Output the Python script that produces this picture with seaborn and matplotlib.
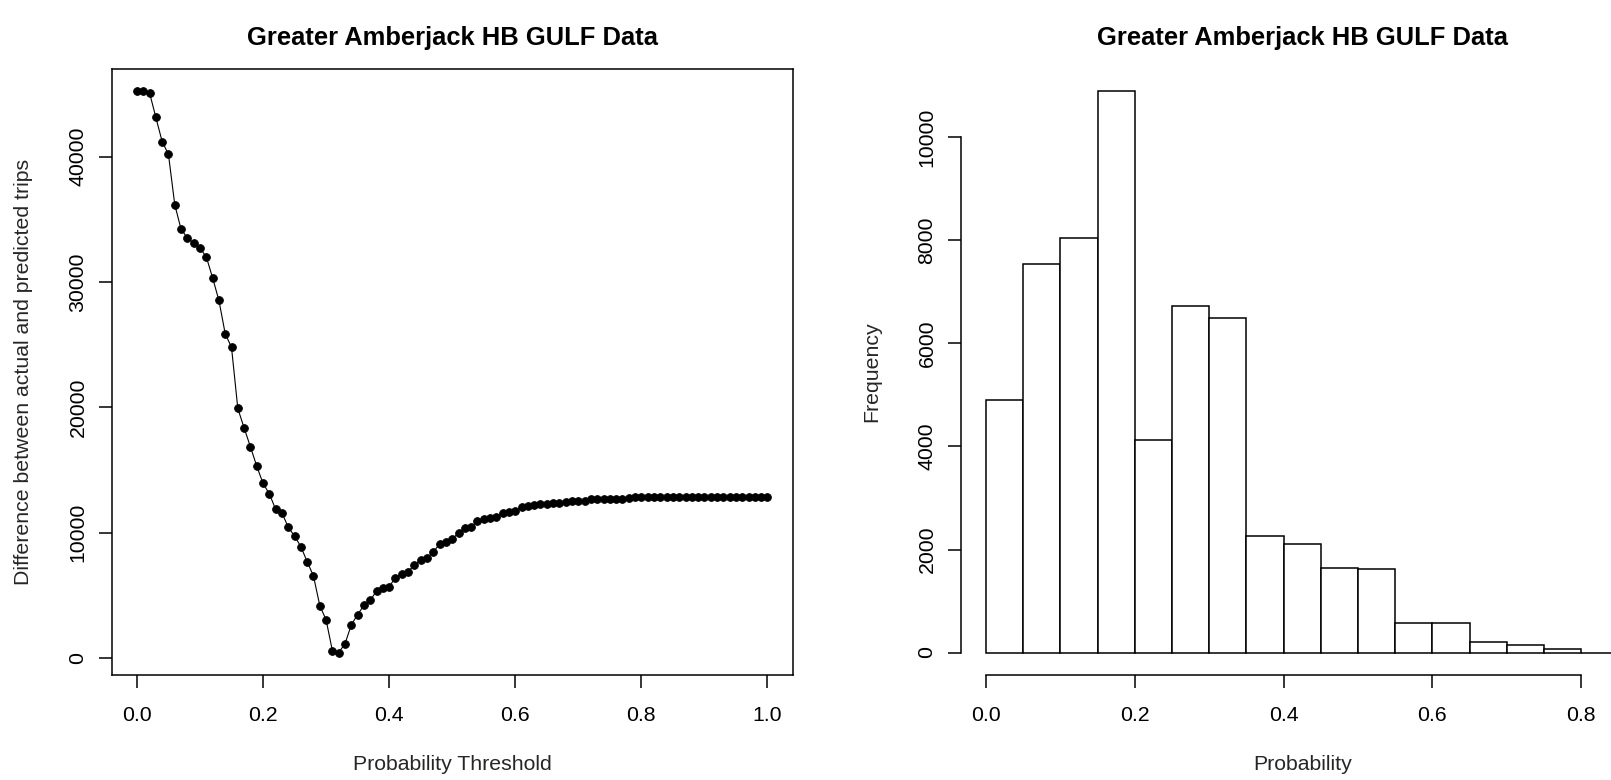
import numpy as np
import pandas as pd
import matplotlib
matplotlib.use("Agg")
import matplotlib.pyplot as plt
import seaborn as sns

# =========================
# Datos
# =========================

TITLE = "Greater Amberjack HB GULF Data"

# Umbral de probabilidad 0.00 ... 1.00 (paso 0.01)
thresholds = np.round(np.linspace(0, 1, 101), 2)

# Diferencia entre viajes reales y predichos
diff_trips = [
    45200, 45200, 45100, 43130, 41200, 40180, 36170, 34200, 33520, 33090,
    32700, 32000, 30330, 28530, 25870, 24780, 19900, 18350, 16840, 15300,
    13920, 13090, 11850, 11580, 10410, 9720, 8870, 7670, 6530, 4170,
    3030, 560, 420, 1120, 2630, 3450, 4180, 4600, 5320, 5550,
    5680, 6400, 6690, 6880, 7410, 7810, 7940, 8470, 9060, 9270,
    9460, 9990, 10330, 10460, 10920, 11100, 11180, 11260, 11580, 11610,
    11710, 12060, 12140, 12190, 12250, 12270, 12380, 12330, 12430, 12510,
    12530, 12530, 12640, 12670, 12680, 12690, 12690, 12700, 12720, 12800,
    12800, 12800, 12800, 12800, 12800, 12800, 12800, 12800, 12800, 12800,
    12800, 12800, 12800, 12800, 12800, 12800, 12800, 12800, 12800, 12800,
    12800,
]

# Histograma: bordes de clase y frecuencias
bin_edges = [0.0, 0.05, 0.10, 0.15, 0.20, 0.25, 0.30, 0.35, 0.40,
             0.45, 0.50, 0.55, 0.60, 0.65, 0.70, 0.75, 0.80, 0.85]
bin_counts = [4900, 7540, 8050, 10890, 4130, 6720, 6490, 2260, 2100,
              1650, 1620, 570, 570, 200, 140, 60, 0]

left_xticks = [0.0, 0.2, 0.4, 0.6, 0.8, 1.0]
left_yticks = [0, 10000, 20000, 30000, 40000]
right_xticks = [0.0, 0.2, 0.4, 0.6, 0.8]
right_yticks = [0, 2000, 4000, 6000, 8000, 10000]


# =========================
# Estilo (tipo R base)
# =========================

sns.set_style("ticks")
plt.rcParams["font.family"] = ["Liberation Sans", "DejaVu Sans"]
plt.rcParams["axes.linewidth"] = 1.1
plt.rcParams["text.color"] = "black"

W, H = 1611, 780
AX_FS = 15.3
TITLE_FS = 18.4
TICK_LEN = 9.4


def r_ticks(ax, xpad=13, ypad=8):
    ax.tick_params(axis="both", direction="out", length=TICK_LEN, width=1.1,
                   labelsize=AX_FS, colors="black")
    ax.tick_params(axis="x", pad=xpad)
    ax.tick_params(axis="y", pad=ypad, labelrotation=90)
    for lab in ax.get_yticklabels():
        lab.set_va("center")


def r_labels(ax, xlabel, ylabel, ycoord):
    ax.set_xlabel(xlabel, fontsize=AX_FS, va="center")
    ax.set_ylabel(ylabel, fontsize=AX_FS, va="center")
    ax.xaxis.set_label_coords(0.5, -0.1485)
    ax.yaxis.set_label_coords(ycoord, 0.5)
    ax.set_title(TITLE, fontsize=TITLE_FS, fontweight="bold", pad=17)


fig = plt.figure(figsize=(W / 100, H / 100), dpi=100)
ax1 = fig.add_axes([111.7 / W, (H - 675) / H, 681 / W, 606 / H])
ax2 = fig.add_axes([960.7 / W, (H - 675) / H, 683 / W, 606 / H])

# --- Panel izquierdo: curva de diferencias ---
df_line = pd.DataFrame({"threshold": thresholds, "diff": diff_trips})
sns.lineplot(data=df_line, x="threshold", y="diff", ax=ax1, color="black",
             linewidth=0.8, marker="o", markersize=5.6,
             markeredgecolor="black", markeredgewidth=0.6)
ymin, ymax = min(diff_trips), max(diff_trips)
ext = 0.04 * (ymax - ymin)
ax1.set_xlim(-0.04, 1.04)
ax1.set_ylim(ymin - ext, ymax + ext)
ax1.set_xticks(left_xticks)
ax1.set_xticklabels([f"{v:.1f}" for v in left_xticks])
ax1.set_yticks(left_yticks)
ax1.set_yticklabels([str(v) for v in left_yticks])
for s in ax1.spines.values():
    s.set_visible(True)
    s.set_color("black")
r_ticks(ax1)
r_labels(ax1, "Probability Threshold",
         "Difference between actual and predicted trips", -0.1302)

# --- Panel derecho: histograma ---
centers = [(a + b) / 2 for a, b in zip(bin_edges[:-1], bin_edges[1:])]
sns.histplot(x=centers, weights=bin_counts, bins=bin_edges, ax=ax2,
             color="white", edgecolor="black", linewidth=1.1, alpha=1)
hmax = max(bin_counts)
rng = bin_edges[-1] - bin_edges[0]
ax2.set_xlim(bin_edges[0] - 0.04 * rng, bin_edges[-1] + 0.04 * rng)
ax2.set_ylim(-0.04 * hmax, 1.04 * hmax)
ax2.set_xticks(right_xticks)
ax2.set_xticklabels([f"{v:.1f}" for v in right_xticks])
ax2.set_yticks(right_yticks)
ax2.set_yticklabels([str(v) for v in right_yticks])
ax2.spines["top"].set_visible(False)
ax2.spines["right"].set_visible(False)
ax2.spines["bottom"].set_bounds(right_xticks[0], right_xticks[-1])
ax2.spines["left"].set_bounds(right_yticks[0], right_yticks[-1])
for s in ax2.spines.values():
    s.set_color("black")
r_ticks(ax2)
r_labels(ax2, "Probability", "Frequency", -0.1299)

fig.savefig("out.png", dpi=100, facecolor="white")
